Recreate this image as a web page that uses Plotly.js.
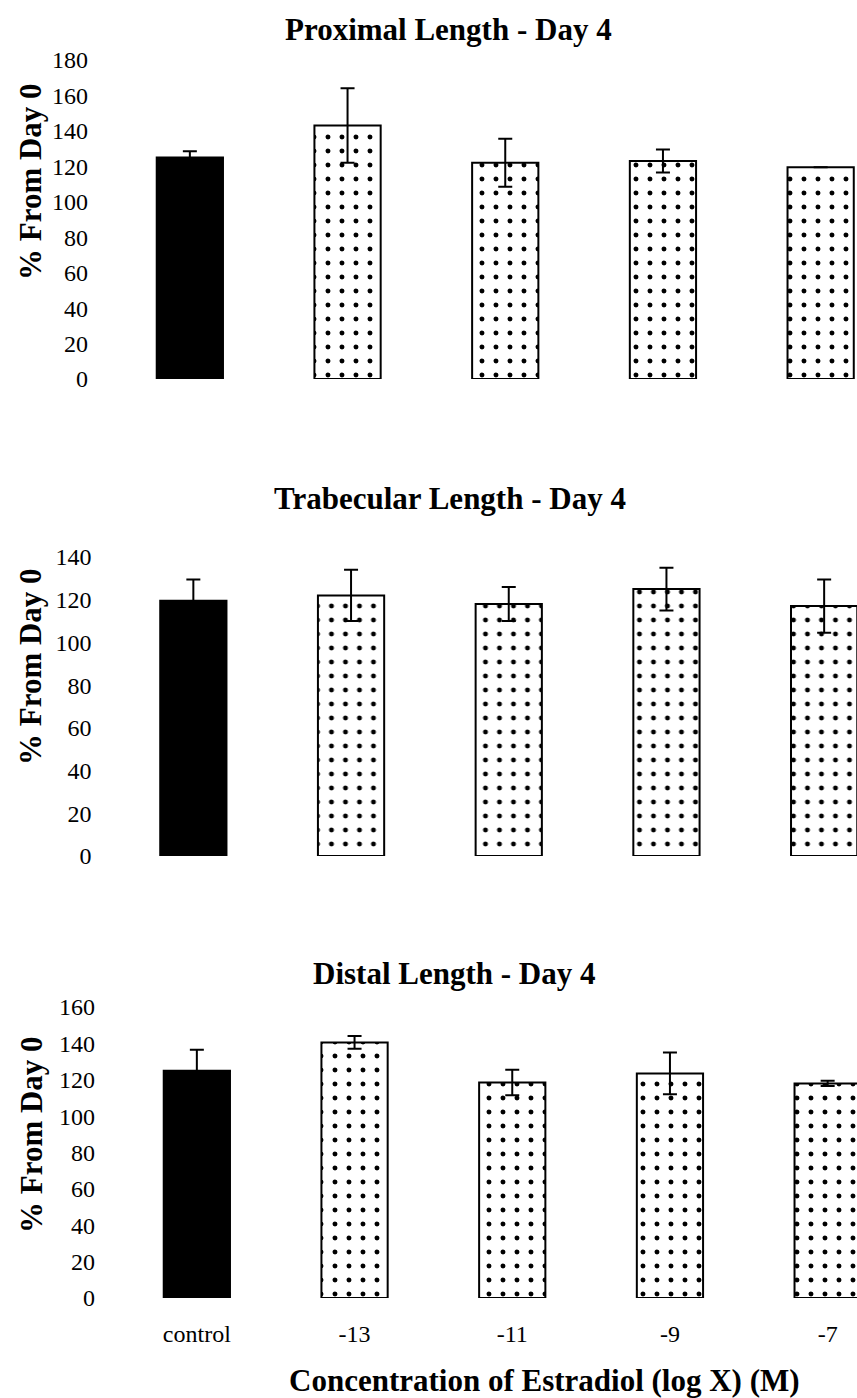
<!DOCTYPE html>
<html>
<head>
<meta charset="utf-8">
<script src="https://cdn.plot.ly/plotly-3.0.1.min.js"></script>
<style>
  html, body { margin: 0; padding: 0; background: #fff; }
  #chart { width: 857px; height: 1398px; }
</style>
</head>
<body>
<div id="chart"></div>
<script>
// Estradiol dose groups (log molar concentration)
const categories = ['control', '-13', '-11', '-9', '-7'];

// Proximal length, % change from day 0
const proximalMean = [125, 143, 122, 123, 119.5];
const proximalErr  = [3.5, 21, 13.5, 6.5, 0];

// Trabecular length, % change from day 0
const trabecularMean = [119.5, 122, 118, 125, 117];
const trabecularErr  = [10, 12, 8, 10, 12.5];

// Distal length, % change from day 0
const distalMean = [125, 140.5, 118.5, 123.5, 118];
const distalErr  = [11.5, 3.5, 7, 11.5, 1.5];

const panelTitles = ['Proximal Length - Day 4', 'Trabecular Length - Day 4', 'Distal Length - Day 4'];
const yTitle = '% From Day 0';
const xTitle = 'Concentration of Estradiol (log X) (M)';

const W = 857, H = 1398;
const fx = px => px / W;
const fy = px => 1 - px / H;
const FONT = 'Liberation Serif, Times New Roman, serif';
const PX_PER_CAT = 157.7;   // horizontal spacing between groups

// control group: solid black; treated groups: white with a dotted fill
function panelTraces(means, errs, xa, ya) {
  const common = {
    type: 'bar', xaxis: xa, yaxis: ya, width: 0.42, hoverinfo: 'skip'
  };
  const errStyle = { type: 'data', visible: true, color: '#000', thickness: 2, width: 7 };
  return [
    Object.assign({}, common, {
      x: categories.slice(0, 1),
      y: means.slice(0, 1),
      marker: { color: '#000', line: { color: '#000', width: 2 } },
      error_y: Object.assign({ array: errs.slice(0, 1) }, errStyle)
    }),
    Object.assign({}, common, {
      x: categories.slice(1),
      y: means.slice(1),
      marker: {
        color: '#fff',
        line: { color: '#000', width: 2 },
        pattern: { shape: '.', fgcolor: '#000', bgcolor: '#fff', fillmode: 'replace', size: 14, solidity: 0.1 }
      },
      error_y: Object.assign({ array: errs.slice(1) }, errStyle)
    })
  ];
}

const data = [].concat(
  panelTraces(proximalMean, proximalErr, 'x', 'y'),
  panelTraces(trabecularMean, trabecularErr, 'x2', 'y2'),
  panelTraces(distalMean, distalErr, 'x3', 'y3')
);

// each panel's plot area starts at leftPx and runs to the right page edge
function xAxis(anchor, leftPx, showLabels) {
  return {
    domain: [fx(leftPx), 1], range: [-0.5, -0.5 + (W - leftPx) / PX_PER_CAT],
    anchor: anchor, type: 'category',
    categoryorder: 'array', categoryarray: categories,
    showgrid: false, zeroline: false, showline: false, ticks: '',
    showticklabels: showLabels, ticklabelstandoff: 19,
    tickfont: { family: FONT, size: 24, color: '#000' }
  };
}
function yAxis(anchor, bottomPx, topPx, maxVal) {
  return {
    domain: [fy(bottomPx), fy(topPx)], range: [0, maxVal], dtick: 20, anchor: anchor,
    showgrid: false, zeroline: false, showline: false, ticks: '',
    ticklabelstandoff: 22,
    tickfont: { family: FONT, size: 24, color: '#000' }
  };
}

const titleFont = { family: FONT, size: 31, color: '#000', weight: 'bold' };

const annotations = [
  { text: panelTitles[0], x: fx(448), y: fy(30) },
  { text: panelTitles[1], x: fx(450), y: fy(498) },
  { text: panelTitles[2], x: fx(454), y: fy(973) },
  { text: yTitle, x: fx(30), y: fy(182), textangle: -90 },
  { text: yTitle, x: fx(30), y: fy(667), textangle: -90 },
  { text: yTitle, x: fx(31), y: fy(1135), textangle: -90 },
  { text: xTitle, x: fx(544), y: fy(1380) }
].map(a => Object.assign({
  xref: 'paper', yref: 'paper', xanchor: 'center', yanchor: 'middle',
  showarrow: false, font: titleFont
}, a));

const layout = {
  width: W, height: H,
  margin: { l: 0, r: 0, t: 0, b: 0 },
  paper_bgcolor: '#fff', plot_bgcolor: '#fff',
  showlegend: false,
  barmode: 'overlay',
  font: { family: FONT, color: '#000' },
  xaxis: xAxis('y', 111, false),
  xaxis2: xAxis('y2', 114.5, false),
  xaxis3: xAxis('y3', 118, true),
  yaxis: yAxis('x', 379, 60, 180),
  yaxis2: yAxis('x2', 856, 557, 140),
  yaxis3: yAxis('x3', 1298, 1007, 160),
  annotations: annotations
};

Plotly.newPlot('chart', data, layout, { displayModeBar: false });
</script>
</body>
</html>
